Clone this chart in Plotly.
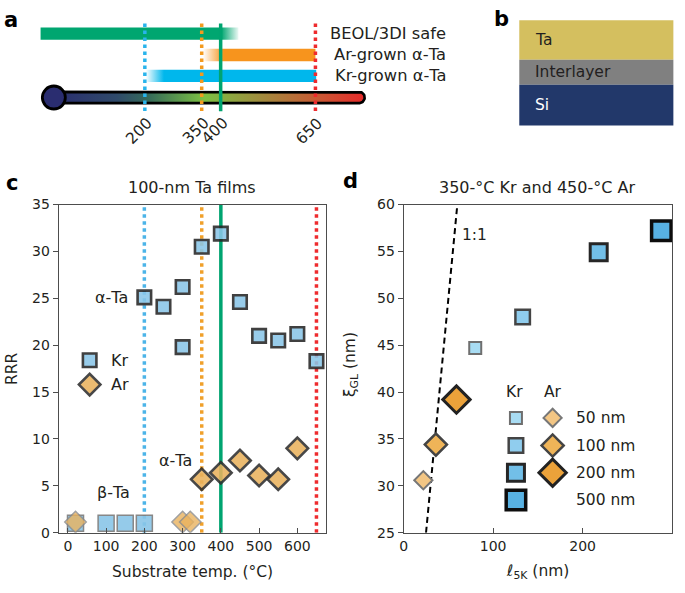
import numpy as np
import plotly.graph_objects as go

W, H = 685, 593
FONT = "DejaVu Sans"
TXT = "#231f20"

# ---------------- panel a data ----------------
mark_temps = [200, 350, 400, 650]
mark_labels = ["200", "350", "400", "650"]
mark_colors = ["#29b4ec", "#f39a1e", "#00a470", "#ee2b2e"]
mark_dash = ["dot", "dot", "solid", "dot"]

bar_labels = ["BEOL/3DI safe", "Ar-grown α-Ta", "Kr-grown α-Ta"]
bar_start = [-75, 350, 200]
bar_end = [447, 650, 652]
bar_grad_start = [398, 350, 200]
bar_grad_stop = [447, 405, 248]
bar_fade = ["out", "in", "in"]
bar_rgb = [(0, 166, 112), (247, 148, 29), (0, 183, 236)]

thermo_T = [-40, 780]
thermo_scale = [[0.0, "#2a2d70"], [0.2, "#2f4a6a"], [0.3, "#356a5a"],
                [0.48, "#7cc043"], [0.66, "#a08c3e"], [0.84, "#c85a34"], [1.0, "#e8282a"]]

# ---------------- panel b data ----------------
layer_names = ["Ta", "Interlayer", "Si"]
layer_thick = [40.6, 25.7, 41.7]
layer_colors = ["#d4bf5f", "#808080", "#22386a"]
layer_text_colors = ["#231f20", "#231f20", "#ffffff"]

# ---------------- panel c data ----------------
kr_beta_T = [20, 100, 150, 200]
kr_beta_RRR = [1.0, 1.0, 1.0, 1.0]
kr_alpha_T = [200, 250, 300, 300, 350, 400, 450, 500, 550, 600, 650]
kr_alpha_RRR = [25.1, 24.1, 26.2, 19.8, 30.5, 31.9, 24.6, 21.0, 20.5, 21.2, 18.3]
ar_beta_T = [20, 300, 320]
ar_beta_RRR = [1.15, 1.15, 1.15]
ar_alpha_T = [350, 400, 450, 500, 550, 600]
ar_alpha_RRR = [5.7, 6.4, 7.7, 6.1, 5.7, 9.0]

# ---------------- panel d data ----------------
thick_labels = ["50 nm", "100 nm", "200 nm", "500 nm"]
kr_l = [80, 133, 218, 288]
kr_xi = [44.7, 48.0, 54.9, 57.2]
ar_l = [22, 36, 59]
ar_xi = [30.6, 34.4, 39.2]
one_to_one = [25, 60]

kr_fill = ["#a8dcf3", "#90cdee", "#72bfe8", "#58b1e2"]
kr_line = ["#6f6f6f", "#444444", "#262626", "#0d0d0d"]
kr_size = [12, 14.5, 17, 19.5]
kr_lw = [2, 2.5, 3, 3.5]
ar_fill = ["#f3c684", "#efb458", "#eba23a"]
ar_line = ["#777777", "#444444", "#222222"]
ar_size = [14, 17, 21]
ar_lw = [2, 2.5, 3]


def rgba(c, a):
    return f"rgba({c[0]},{c[1]},{c[2]},{a})"


fig = go.Figure()

# ================= panel a =================
row_y = [26.3, 48.3, 69.7]
half_h = 6.3
for i in range(3):
    c = bar_rgb[i]
    if bar_fade[i] == "out":
        cs = [[0, rgba(c, 1)], [1, rgba(c, 0)]]
    else:
        cs = [[0, rgba(c, 0)], [1, rgba(c, 1)]]
    x0, x1 = bar_start[i], bar_end[i]
    y0, y1 = row_y[i] - half_h, row_y[i] + half_h
    fig.add_trace(go.Scatter(
        x=[x0, x1, x1, x0, x0], y=[y0, y0, y1, y1, y0], xaxis="x3", yaxis="y3",
        mode="lines", line=dict(width=0), fill="toself",
        fillgradient=dict(type="horizontal", start=bar_grad_start[i], stop=bar_grad_stop[i], colorscale=cs),
        hoverinfo="skip"))

# thermometer bar
px_per_T = 376.75 / (816.5 + 171.5)
ty, th = 92, 5.8
rx = th / px_per_T
ang = np.linspace(-np.pi / 2, np.pi / 2, 30)
xs = [thermo_T[0]] + list(thermo_T[1] - rx + rx * np.cos(ang)) + [thermo_T[0], thermo_T[0]]
ys = [ty - th] + list(ty + th * np.sin(ang)) + [ty + th, ty - th]
fig.add_trace(go.Scatter(
    x=xs, y=ys, xaxis="x3", yaxis="y3", mode="lines",
    line=dict(color="black", width=2.6), fill="toself",
    fillgradient=dict(type="horizontal", start=thermo_T[0], stop=thermo_T[1], colorscale=thermo_scale),
    hoverinfo="skip"))
fig.add_trace(go.Scatter(
    x=[thermo_T[0]], y=[ty], xaxis="x3", yaxis="y3", mode="markers",
    marker=dict(symbol="circle", size=23, color="#2a2d70", line=dict(color="black", width=2.8)),
    hoverinfo="skip"))

for t, c, d in zip(mark_temps, mark_colors, mark_dash):
    fig.add_trace(go.Scatter(
        x=[t, t], y=[16, 106], xaxis="x3", yaxis="y3", mode="lines",
        line=dict(color=c, width=3.5, dash=d), hoverinfo="skip"))

# ================= panel c =================
c_vcolors = ["#4cb4e8", "#f0a02a", "#00a470", "#ee2b2e"]
c_vwidth = [3.5, 3.5, 3.5, 3.5]
for t, c, d, w in zip(mark_temps, c_vcolors, mark_dash, c_vwidth):
    fig.add_trace(go.Scatter(
        x=[t, t], y=[0, 35], xaxis="x", yaxis="y", mode="lines",
        line=dict(color=c, width=w, dash=d), hoverinfo="skip"))

fig.add_trace(go.Scatter(
    x=kr_beta_T, y=kr_beta_RRR, xaxis="x", yaxis="y", mode="markers",
    marker=dict(symbol="square", size=16, color="#8ac6e8", opacity=0.9,
                line=dict(color="#7a7a7a", width=1.5))))
fig.add_trace(go.Scatter(
    x=ar_beta_T, y=ar_beta_RRR, xaxis="x", yaxis="y", mode="markers",
    marker=dict(symbol="diamond", size=16.5, color="#e9b25e", opacity=0.8,
                line=dict(color="#8a8a8a", width=1.5))))
fig.add_trace(go.Scatter(
    x=kr_alpha_T, y=kr_alpha_RRR, xaxis="x", yaxis="y", mode="markers",
    marker=dict(symbol="square", size=13.5, color="#8ac6e8", opacity=0.88,
                line=dict(color="#262626", width=2.6))))
fig.add_trace(go.Scatter(
    x=ar_alpha_T, y=ar_alpha_RRR, xaxis="x", yaxis="y", mode="markers",
    marker=dict(symbol="diamond", size=16.5, color="#e9b25e", opacity=0.88,
                line=dict(color="#2e2e2e", width=2.6))))
# in-plot legend c
fig.add_trace(go.Scatter(
    x=[57], y=[18.4], xaxis="x", yaxis="y", mode="markers",
    marker=dict(symbol="square", size=13.5, color="#8ac6e8", opacity=0.88,
                line=dict(color="#262626", width=2.6))))
fig.add_trace(go.Scatter(
    x=[57], y=[15.8], xaxis="x", yaxis="y", mode="markers",
    marker=dict(symbol="diamond", size=16.5, color="#e9b25e", opacity=0.88,
                line=dict(color="#2e2e2e", width=2.6))))

# ================= panel d =================
fig.add_trace(go.Scatter(
    x=one_to_one, y=one_to_one, xaxis="x2", yaxis="y2", mode="lines",
    line=dict(color="black", width=2, dash="6px,4px"), hoverinfo="skip"))
for i in range(len(kr_l)):
    fig.add_trace(go.Scatter(
        x=[kr_l[i]], y=[kr_xi[i]], xaxis="x2", yaxis="y2", mode="markers",
        marker=dict(symbol="square", size=kr_size[i], color=kr_fill[i],
                    line=dict(color=kr_line[i], width=kr_lw[i]))))
for i in range(len(ar_l)):
    fig.add_trace(go.Scatter(
        x=[ar_l[i]], y=[ar_xi[i]], xaxis="x2", yaxis="y2", mode="markers",
        marker=dict(symbol="diamond", size=ar_size[i], color=ar_fill[i],
                    line=dict(color=ar_line[i], width=ar_lw[i]))))
# legend d
leg_rows = [37.25, 34.3, 31.4, 28.5]
for i in range(4):
    fig.add_trace(go.Scatter(
        x=[125.5], y=[leg_rows[i]], xaxis="x2", yaxis="y2", mode="markers",
        marker=dict(symbol="square", size=kr_size[i], color=kr_fill[i],
                    line=dict(color=kr_line[i], width=kr_lw[i]))))
for i in range(3):
    fig.add_trace(go.Scatter(
        x=[166.5], y=[leg_rows[i]], xaxis="x2", yaxis="y2", mode="markers",
        marker=dict(symbol="diamond", size=ar_size[i], color=ar_fill[i],
                    line=dict(color=ar_line[i], width=ar_lw[i]))))

# ================= annotations =================
ann = []


def A(text, x, y, size=15, xref="paper", yref="paper", xanchor="center", yanchor="middle",
      color=TXT, bold=False, angle=0, xshift=0, family=FONT):
    if xref == "paper":
        x = x / W
    if yref == "paper":
        y = 1 - y / H
    t = f"<b>{text}</b>" if bold else text
    ann.append(dict(text=t, x=x, y=y, xref=xref, yref=yref, xanchor=xanchor, yanchor=yanchor,
                    showarrow=False, textangle=angle, xshift=xshift,
                    font=dict(family=family, size=size, color=color)))


# panel labels
A("a", 7, 12, size=21, bold=True, color="black")
A("b", 500, 11, size=21, bold=True, color="black")
A("c", 8, 180, size=21, bold=True, color="black")
A("d", 349, 178, size=21, bold=True, color="black")

# panel a texts
for lab, yy in zip(bar_labels, row_y):
    A(lab, 447, yy, size=16.3, xanchor="right")
for t, lab in zip(mark_temps, mark_labels):
    A(lab, t, 126, size=15.5, xref="x3", yref="y3", angle=-45, xshift=-6)

# panel b
top = 12.7
for name, th_, col, tc in zip(layer_names, layer_thick, layer_colors, layer_text_colors):
    A(name, 532, top + th_ / 2, size=15.5, xanchor="left", color=tc)
    top += th_

# panel c
A("100-nm Ta films", 189.5, 184, size=16)
A("RRR", 8, 370, size=15.5, angle=-90)
A("Substrate temp. (°C)", 190, 580, size=15.5)
A("α-Ta", 162, 25.1, size=16, xref="x", yref="y", xanchor="right")
A("β-Ta", 119, 4.3, size=16, xref="x", yref="y")
A("α-Ta", 282, 7.7, size=16, xref="x", yref="y")
A("Kr", 108, 18.4, size=16, xref="x", yref="y", xanchor="left")
A("Ar", 108, 15.8, size=16, xref="x", yref="y", xanchor="left")

# panel d
A("350-°C Kr and 450-°C Ar", 536, 184, size=16)
A("ξ<sub>GL</sub> (nm)", 349, 366, size=15.5, angle=-90)
A("ℓ<sub>5K</sub> (nm)", 537, 580, size=15.5)
A("1:1", 79, 56.7, size=15.5, xref="x2", yref="y2")
A("Kr", 124, 40.05, size=15.5, xref="x2", yref="y2")
A("Ar", 166.5, 40.05, size=15.5, xref="x2", yref="y2")
for lab, yy in zip(thick_labels, leg_rows):
    A(lab, 190, yy, size=15.5, xref="x2", yref="y2", xanchor="left")

# ================= panel b shapes =================
shapes = []
top = 12.7
for th_, col in zip(layer_thick, layer_colors):
    shapes.append(dict(type="rect", xref="paper", yref="paper",
                       x0=518.3 / W, x1=673.3 / W, y0=1 - (top + th_) / H, y1=1 - top / H,
                       fillcolor=col, line=dict(width=0), layer="below"))
    top += th_

axis_common = dict(showline=True, linecolor="#4d4d4d", linewidth=1, mirror=True,
                   showgrid=False, zeroline=False, tickcolor="#4d4d4d", ticklen=5,
                   tickfont=dict(family=FONT, size=14, color=TXT))

dom_y = [1 - 539.3 / H, 1 - 202 / H]
fig.update_layout(
    width=W, height=H, margin=dict(l=0, r=0, t=0, b=0),
    paper_bgcolor="white", plot_bgcolor="rgba(0,0,0,0)", showlegend=False,
    font=dict(family=FONT, color=TXT),
    xaxis=dict(domain=[55 / W, 324.3 / W], range=[-24, 676], anchor="y",
               tickvals=[0, 100, 200, 300, 400, 500, 600], ticks="inside", **axis_common),
    yaxis=dict(domain=dom_y, range=[0, 35], anchor="x",
               tickvals=[0, 5, 10, 15, 20, 25, 30, 35], ticks="outside", **axis_common),
    xaxis2=dict(domain=[402 / W, 672 / W], range=[0, 300], anchor="y2",
                tickvals=[0, 100, 200, 300], ticks="inside", **axis_common),
    yaxis2=dict(domain=dom_y, range=[25, 60], anchor="x2",
                tickvals=[25, 30, 35, 40, 45, 50, 55, 60], ticks="outside", **axis_common),
    xaxis3=dict(domain=[0, 376.75 / W], range=[-171.5, 816.5], anchor="y3", visible=False),
    yaxis3=dict(domain=[1 - 150 / H, 1], range=[150, 0], anchor="x3", visible=False),
    annotations=ann, shapes=shapes,
)

fig.write_html("out.html", config={"displayModeBar": False},
               post_script="document.body.style.margin='0';document.body.style.overflow='hidden';")
